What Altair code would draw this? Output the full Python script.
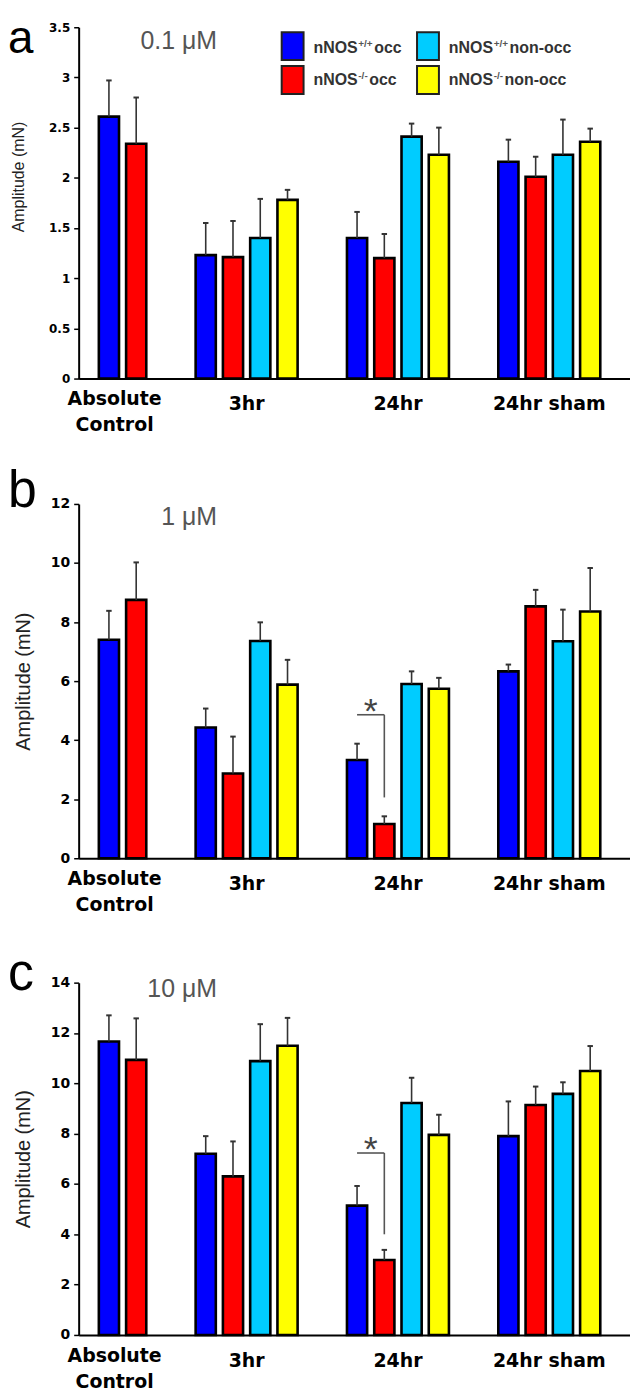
import altair as alt
import pandas as pd

# ---------------- data ----------------
groups = ["Absolute Control", "3hr", "24hr", "24hr sham"]
group_labels = ["Absolute\nControl", "3hr", "24hr", "24hr sham"]
series = ["nNOS+/+ occ", "nNOS-/- occ", "nNOS+/+ non-occ", "nNOS-/- non-occ"]
series_colors = ["#0000FF", "#FF0000", "#00CCFF", "#FFFF00"]
legend_main = ["nNOS", "nNOS", "nNOS", "nNOS"]
legend_sup = ["+/+", "-/-", "+/+", "-/-"]
legend_rest = ["occ", "occ", "non-occ", "non-occ"]

bar_group = ["Absolute Control"] * 2 + ["3hr"] * 4 + ["24hr"] * 4 + ["24hr sham"] * 4
bar_series = series[:2] + series * 3

# panel a : 0.1 uM
a_mean = [2.61, 2.34, 1.23, 1.21, 1.40, 1.78, 1.40, 1.20, 2.41, 2.23, 2.16, 2.01, 2.23, 2.36]
a_err = [0.36, 0.46, 0.32, 0.36, 0.39, 0.10, 0.26, 0.24, 0.13, 0.27, 0.22, 0.20, 0.35, 0.13]
a_ticks = [0, 0.5, 1, 1.5, 2, 2.5, 3, 3.5]

# panel b : 1 uM
b_mean = [7.40, 8.75, 4.43, 2.87, 7.36, 5.88, 3.33, 1.16, 5.90, 5.74, 6.33, 8.53, 7.35, 8.36]
b_err = [0.98, 1.27, 0.64, 1.25, 0.63, 0.84, 0.55, 0.26, 0.43, 0.37, 0.23, 0.56, 1.07, 1.47]
b_ticks = [0, 2, 4, 6, 8, 10, 12]
b_bracket = {"group": "24hr", "from": 0, "to": 1, "top": 4.86, "bottom": 2.06}

# panel c : 10 uM
c_mean = [11.66, 10.93, 7.20, 6.30, 10.88, 11.49, 5.14, 2.98, 9.22, 7.95, 7.90, 9.14, 9.58, 10.49]
c_err = [1.04, 1.65, 0.70, 1.39, 1.47, 1.11, 0.78, 0.40, 1.00, 0.80, 1.38, 0.73, 0.46, 0.99]
c_ticks = [0, 2, 4, 6, 8, 10, 12, 14]
c_bracket = {"group": "24hr", "from": 0, "to": 1, "top": 7.23, "bottom": 4.0}

# ---------------- layout helpers ----------------
GAP = 1.55          # extra empty slots between groups
HALF = 0.37         # half bar width in slot units
CAP = 0.1           # half cap width in slot units
X_DOMAIN = [-1.11, 19.11]
WIDTH = 554

pos = []
count = 0
for gi, g in enumerate(groups):
    n = bar_group.count(g)
    for k in range(n):
        pos.append(count + k + GAP * gi)
    count += n

dummy = pd.DataFrame({"k": [0]})


def txt(s, x, y, size, font="Liberation Sans", weight="normal", color="black",
        align="left", baseline="alphabetic", dy=0):
    return alt.Chart(dummy).mark_text(
        text=s, font=font, fontSize=size, fontWeight=weight, color=color,
        align=align, baseline=baseline, dy=dy
    ).encode(x=alt.value(x), y=alt.value(y))


def panel(letter, letter_size, letter_y, conc, conc_y, mean, err, ticks, height,
          tick_font, title_font, title_pad, title_y, bracket=None, legend=False):
    df = pd.DataFrame({
        "group": bar_group, "series": bar_series, "pos": pos,
        "mean": mean, "err": err,
    })
    df["top"] = df["mean"] + df["err"]
    xs = alt.Scale(domain=X_DOMAIN, nice=False, zero=False)
    ys = alt.Scale(domain=[ticks[0], ticks[-1]], nice=False)

    base = alt.Chart(df).transform_calculate(
        x0=f"datum.pos - {HALF}", x1=f"datum.pos + {HALF}",
        cl=f"datum.pos - {CAP}", cr=f"datum.pos + {CAP}",
    )
    bars = base.mark_rect(stroke="black", strokeWidth=2.6).encode(
        x=alt.X("x0:Q", scale=xs, axis=alt.Axis(
            labels=False, ticks=False, grid=False, title="",
            domainColor="black", domainWidth=2)),
        x2="x1:Q",
        y=alt.Y("mean:Q", scale=ys, axis=alt.Axis(
            values=ticks, format="~g", grid=False, tickSize=5, tickWidth=1.5,
            tickColor="black", domainColor="black", domainWidth=2,
            labelFont="DejaVu Sans", labelFontWeight="bold",
            labelFontSize=tick_font, labelColor="black", labelPadding=4,
            title="Amplitude (mN)", titleFont="Liberation Sans",
            titleFontWeight="normal", titleFontSize=title_font,
            titleColor="#222222", titlePadding=title_pad, titleY=title_y)),
        y2=alt.datum(0),
        fill=alt.Fill("series:N", scale=alt.Scale(domain=series, range=series_colors),
                      legend=None),
    )
    err_line = base.mark_rule(color="#333333", strokeWidth=1.6).encode(
        x=alt.X("pos:Q", scale=xs),
        y=alt.Y("mean:Q", scale=ys),
        y2="top:Q",
    )
    err_cap = base.mark_rule(color="#333333", strokeWidth=2).encode(
        x=alt.X("cl:Q", scale=xs), x2="cr:Q",
        y=alt.Y("top:Q", scale=ys),
    )

    # group labels
    centers = [sum(p for p, g2 in zip(pos, bar_group) if g2 == g) / bar_group.count(g)
               for g in groups]
    lab = pd.DataFrame({"label": group_labels, "c": centers})
    lab_multi = alt.Chart(lab.iloc[:1]).mark_text(
        font="DejaVu Sans", fontWeight="bold", fontSize=19, color="black",
        align="center", baseline="alphabetic", lineBreak="\n", lineHeight=26, dx=-8
    ).encode(x=alt.X("c:Q", scale=xs), y=alt.value(height + 27), text="label:N")
    lab_single = alt.Chart(lab.iloc[1:]).mark_text(
        font="DejaVu Sans", fontWeight="bold", fontSize=19, color="black",
        align="center", baseline="alphabetic"
    ).encode(x=alt.X("c:Q", scale=xs), y=alt.value(height + 32), text="label:N")

    layers = [bars, err_line, err_cap, lab_multi, lab_single,
              txt(letter, -71, letter_y, letter_size),
              txt(conc, 139, conc_y, 25, color="#555555", align="right")]

    if bracket is not None:
        gpos = [p for p, g2 in zip(pos, bar_group) if g2 == bracket["group"]]
        bdf = pd.DataFrame({
            "a": [gpos[bracket["from"]]], "b": [gpos[bracket["to"]]],
            "top": [bracket["top"]], "bottom": [bracket["bottom"]],
        })
        bb = alt.Chart(bdf)
        layers.append(bb.mark_rule(color="#555555", strokeWidth=1.6).encode(
            x=alt.X("a:Q", scale=xs), x2="b:Q",
            y=alt.Y("top:Q", scale=ys)))
        layers.append(bb.mark_rule(color="#555555", strokeWidth=1.6).encode(
            x=alt.X("b:Q", scale=xs),
            y=alt.Y("top:Q", scale=ys), y2="bottom:Q"))
        layers.append(bb.transform_calculate(m="(datum.a + datum.b) / 2").mark_text(
            text="*", font="Liberation Sans", fontSize=36, color="#444444",
            align="center", baseline="alphabetic", dy=8).encode(
            x=alt.X("m:Q", scale=xs),
            y=alt.Y("top:Q", scale=ys)))

    if legend:
        for i, s in enumerate(series):
            col = 0 if i in (0, 1) else 1
            row = 0 if i in (0, 2) else 1
            sx = 204 + col * 136
            sy = 5 + row * 34
            layers.append(alt.Chart(dummy).mark_rect(
                fill=series_colors[i], stroke="#222222", strokeWidth=2).encode(
                x=alt.value(sx), x2=alt.value(sx + 22),
                y=alt.value(sy), y2=alt.value(sy + 28)))
            tx = sx + 32
            ty = 26 + row * 32
            layers.append(txt(legend_main[i], tx, ty, 16, weight="bold", color="#333333"))
            layers.append(txt(legend_sup[i], tx + 45, ty - 6, 10, weight="bold", color="#555555"))
            sup_w = 16 if legend_sup[i] == "+/+" else 11
            layers.append(txt(legend_rest[i], tx + 45 + sup_w, ty, 16, weight="bold", color="#333333"))

    return alt.layer(*layers).properties(width=WIDTH, height=height)


pa = panel("a", 46, 26, "0.1 \u03bcM", 22, a_mean, a_err, a_ticks, 353, 12, 16, 22, 150,
           legend=True)
pb = panel("b", 52, 3, "1 \u03bcM", 21, b_mean, b_err, b_ticks, 356, 14, 20, 17, 178,
           bracket=b_bracket)
pc = panel("c", 52, 7, "10 \u03bcM", 14, c_mean, c_err, c_ticks, 354, 14, 20, 17, 177,
           bracket=c_bracket)

chart = alt.vconcat(pa, alt.vconcat(pb, pc, spacing=33), spacing=30).properties(
    padding={"left": 0, "top": 5, "right": 0, "bottom": 0},
    background="white",
).configure_view(stroke=None)

chart.save("out.html", embed_options={"renderer": "svg", "actions": False})
